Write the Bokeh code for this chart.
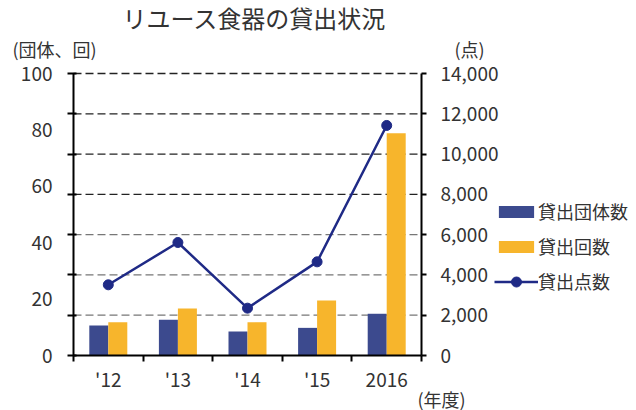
from bokeh.plotting import figure
from bokeh.models import (Range1d, LinearAxis, FixedTicker, Legend, LegendItem,
                          Label, ColumnDataSource, NumeralTickFormatter)
from bokeh.transform import dodge
from bokeh.embed import file_html
from bokeh.resources import INLINE

# ---- data ----
years = ["'12", "'13", "'14", "'15", "2016"]
groups = [10.6, 12.7, 8.5, 9.8, 14.8]        # 貸出団体数 (left axis)
loans = [11.8, 16.7, 11.8, 19.5, 78.8]       # 貸出回数 (left axis)
items = [3510, 5610, 2350, 4650, 11420]      # 貸出点数 (right axis)
left_ticks = [0, 20, 40, 60, 80, 100]
right_ticks = [0, 2000, 4000, 6000, 8000, 10000, 12000, 14000]

FONT = "Noto Sans CJK JP"
TXT = "#333333"
BLUE = "#3C4A8E"
ORANGE = "#F7B52C"
NAVY = "#1F2A86"

# ---- layout (pixels) ----
W, H = 636, 410
PL, PR, PT, PB = 73, 421, 73, 355     # plot area inside the canvas


def ext_range(lo, hi, a, b, total, flip=False):
    """range whose [lo, hi] lands on pixels [a, b] of a frame spanning [0, total]"""
    span = (hi - lo) / (b - a)
    if flip:
        return Range1d(lo - (total - b) * span, hi + a * span)
    return Range1d(lo - a * span, hi + (total - b) * span)


n = len(years)
xs = [i + 0.5 for i in range(n)]
src = ColumnDataSource(dict(x=xs, groups=groups, loans=loans, items=items))

p = figure(width=W, height=H, output_backend="svg", toolbar_location=None, title=None,
           x_axis_type=None, y_axis_type=None,
           x_range=ext_range(0, n, PL, PR, W),
           y_range=ext_range(left_ticks[0], left_ticks[-1], PT, PB, H, flip=True),
           min_border=0)
p.extra_y_ranges = {"pts": ext_range(right_ticks[0], right_ticks[-1], PT, PB, H, flip=True)}
p.outline_line_color = None

# dashed grid lines (right-hand scale)
p.segment(x0=0, x1=n, y0=right_ticks[1:4], y1=right_ticks[1:4], y_range_name="pts",
          line_color="#777777", line_dash="8 4", line_width=1.3)
p.segment(x0=0, x1=n, y0=right_ticks[4:], y1=right_ticks[4:], y_range_name="pts",
          line_color="#222222", line_dash="8 4", line_width=1.3)

# bars
bw = 0.273
b1 = p.vbar(x=dodge("x", -bw / 2, range=p.x_range), top="groups", width=bw, source=src,
            fill_color=BLUE, line_color=None)
b2 = p.vbar(x=dodge("x", bw / 2, range=p.x_range), top="loans", width=bw, source=src,
            fill_color=ORANGE, line_color=None)

# line
l1 = p.line(x="x", y="items", source=src, y_range_name="pts", line_color=NAVY, line_width=2.5)
s1 = p.scatter(x="x", y="items", source=src, y_range_name="pts", size=10,
               fill_color=NAVY, line_color=NAVY)


def style(ax, size="19px"):
    ax.axis_line_width = 2
    ax.axis_line_color = "black"
    ax.major_label_text_font = FONT
    ax.major_label_text_font_size = size
    ax.major_label_text_color = TXT


# x axis
xa = LinearAxis(fixed_location=0, bounds=(0, n),
                ticker=FixedTicker(ticks=xs, minor_ticks=list(range(n + 1))))
xa.major_label_overrides = {x: y for x, y in zip(xs, years)}
xa.major_tick_out = 0
xa.major_tick_in = 0
xa.minor_tick_out = 6
xa.minor_tick_in = 0
xa.minor_tick_line_width = 2
xa.minor_tick_line_color = "black"
xa.major_label_standoff = 3
style(xa)
p.add_layout(xa, "below")

# left axis
ya = LinearAxis(fixed_location=0, bounds=(left_ticks[0], left_ticks[-1]),
                ticker=FixedTicker(ticks=left_ticks,
                                   minor_ticks=[t * left_ticks[-1] / right_ticks[-1]
                                                for t in right_ticks]))
ya.major_tick_out = 0
ya.major_tick_in = 0
ya.minor_tick_out = 6
ya.minor_tick_in = 3
ya.minor_tick_line_width = 2
ya.minor_tick_line_color = "black"
ya.major_label_standoff = 15
style(ya)
p.add_layout(ya, "left")

# right axis
ra = LinearAxis(y_range_name="pts", fixed_location=n,
                bounds=(right_ticks[0], right_ticks[-1]),
                ticker=FixedTicker(ticks=right_ticks),
                formatter=NumeralTickFormatter(format="0,0"))
ra.major_tick_out = 5
ra.major_tick_in = 0
ra.major_tick_line_width = 2
ra.minor_tick_out = 0
ra.minor_tick_in = 0
ra.major_label_standoff = 14
style(ra)
p.add_layout(ra, "right")

# series legend: bar entries, then the line entry (taller glyph box for a larger marker)
leg_common = dict(border_line_color=None, background_fill_alpha=0,
                  label_text_font=FONT, label_text_font_size="18px", label_text_color=TXT,
                  glyph_width=44, spacing=9, padding=0, margin=0, label_standoff=0)
legend_bars = Legend(items=[LegendItem(label="貸出団体数", renderers=[b1]),
                            LegendItem(label="貸出回数", renderers=[b2])],
                     location=(494, H - 259), glyph_height=15, **leg_common)
legend_line = Legend(items=[LegendItem(label="貸出点数", renderers=[l1, s1])],
                     location=(494, H - 294), glyph_height=25, **leg_common)
p.add_layout(legend_bars)
p.add_layout(legend_line)


# texts
def lab(x, y_top, t, size, align="left"):
    p.add_layout(Label(x=x, y=H - y_top, x_units="screen", y_units="screen", text=t,
                       text_font=FONT, text_font_size=size, text_color=TXT,
                       text_align=align, text_baseline="middle"))


lab(254, 17, "リユース食器の貸出状況", "24px", "center")
lab(12, 48, "(団体、回)", "18px")
lab(454, 48, "(点)", "18px")
lab(417, 398, "(年度)", "18px")

open("out.html", "w").write(file_html(p, INLINE))
